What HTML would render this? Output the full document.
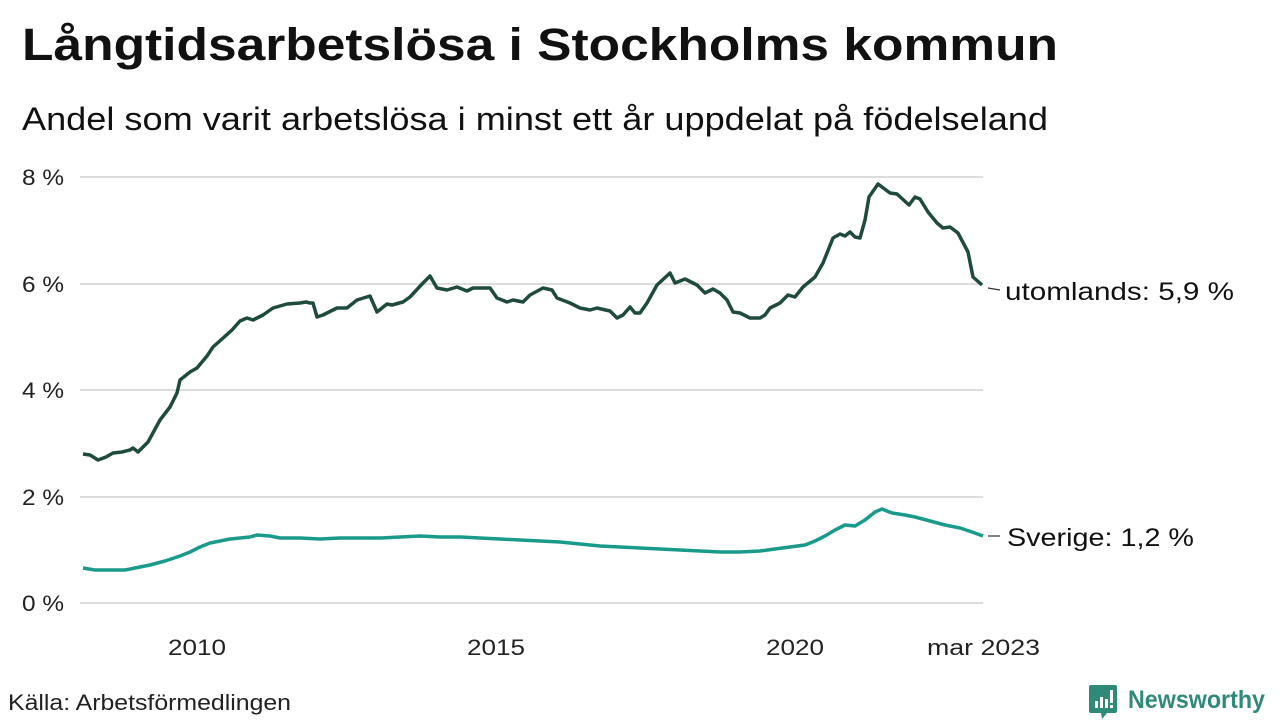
<!DOCTYPE html>
<html><head><meta charset="utf-8"><style>
body{margin:0;width:1280px;height:720px;background:#fff;overflow:hidden;font-family:"Liberation Sans",sans-serif;color:#111}
svg{position:absolute;left:0;top:0}
</style></head><body>
<svg width="1280" height="720" viewBox="0 0 1280 720" font-family="Liberation Sans, sans-serif">
<text x="22" y="60" font-size="45" font-weight="bold" fill="#111" textLength="1036" lengthAdjust="spacingAndGlyphs">Långtidsarbetslösa i Stockholms kommun</text>
<text x="22" y="130" font-size="32" fill="#111" textLength="1026" lengthAdjust="spacingAndGlyphs">Andel som varit arbetslösa i minst ett år uppdelat på födelseland</text>
<g stroke="#dcdcdc" stroke-width="2">
<line x1="80" y1="177" x2="983" y2="177"/><line x1="80" y1="284" x2="983" y2="284"/>
<line x1="80" y1="390" x2="983" y2="390"/><line x1="80" y1="497" x2="983" y2="497"/>
<line x1="80" y1="603" x2="983" y2="603"/>
</g>
<g font-size="22" fill="#222">
<text x="22" y="185" textLength="42" lengthAdjust="spacingAndGlyphs">8 %</text><text x="22" y="292" textLength="42" lengthAdjust="spacingAndGlyphs">6 %</text><text x="22" y="398" textLength="42" lengthAdjust="spacingAndGlyphs">4 %</text>
<text x="22" y="505" textLength="42" lengthAdjust="spacingAndGlyphs">2 %</text><text x="22" y="611" textLength="42" lengthAdjust="spacingAndGlyphs">0 %</text>
<text x="168" y="655" textLength="58" lengthAdjust="spacingAndGlyphs">2010</text>
<text x="467" y="655" textLength="58" lengthAdjust="spacingAndGlyphs">2015</text>
<text x="766" y="655" textLength="58" lengthAdjust="spacingAndGlyphs">2020</text>
<text x="927" y="655" textLength="113" lengthAdjust="spacingAndGlyphs">mar 2023</text>
</g>
<polyline fill="none" stroke="#1f4b3f" stroke-width="3.5" stroke-linejoin="round" points="83,454 90,455 98,460 106,457 113,453 122,452 130,450 133,448 138,452 148,442 160,420 170,407 177,393 180,380 190,372 197,368 207,356 213,347 222,339 232,330 240,321 247,318 253,320 263,315 273,308 280,306 287,304 300,303 306,302 310,303 313,303 317,317 323,315 337,308 347,308 357,300 370,296 377,312 387,304 392,305 403,302 410,297 423,283 430,276 437,288 447,290 457,287 467,291 473,288 490,288 497,298 507,302 513,300 523,302 530,295 543,288 552,290 557,298 570,303 580,308 590,310 597,308 610,311 617,318 623,315 630,307 635,313 640,313 647,303 657,285 670,273 675,283 685,279 697,285 705,293 713,289 720,293 727,300 733,312 740,313 750,318 760,318 765,315 770,308 780,303 788,295 795,297 803,287 815,277 823,263 833,238 840,234 845,236 850,232 855,237 860,238 865,220 869,197 878,184 890,193 897,194 909,205 915,197 920,199 928,212 937,223 943,228 950,227 958,233 968,252 973,277 982,285"/>
<polyline fill="none" stroke="#1a9a8a" stroke-width="3.5" stroke-linejoin="round" points="83,568 95,570 105,570 115,570 125,570 135,568 150,565 165,561 180,556 190,552 200,547 210,543 220,541 230,539 240,538 250,537 257,535 270,536 280,538 300,538 320,539 340,538 360,538 380,538 400,537 420,536 440,537 460,537 480,538 500,539 520,540 540,541 560,542 580,544 600,546 620,547 640,548 660,549 680,550 700,551 720,552 740,552 760,551 775,549 790,547 805,545 815,541 825,536 835,530 845,525 855,526 865,520 875,512 882,509 892,513 905,515 915,517 930,521 945,525 960,528 972,532 983,536"/>
<line x1="988" y1="288" x2="1000" y2="290" stroke="#333" stroke-width="1.2"/>
<line x1="988" y1="536" x2="1000" y2="536" stroke="#333" stroke-width="1.2"/>
<g font-size="25" fill="#111">
<text x="1005" y="300" textLength="229" lengthAdjust="spacingAndGlyphs">utomlands: 5,9 %</text>
<text x="1007" y="546" textLength="187" lengthAdjust="spacingAndGlyphs">Sverige: 1,2 %</text>
</g>
<text x="8" y="710" font-size="22" fill="#222" textLength="283" lengthAdjust="spacingAndGlyphs">Källa: Arbetsförmedlingen</text>
<g transform="translate(1089,685)">
<path d="M0,2 a2,2 0 0 1 2,-2 h24 a2,2 0 0 1 2,2 v24 a2,2 0 0 1 -2,2 h-8 l-5,6 l-1,-6 h-10 a2,2 0 0 1 -2,-2z" fill="#2f8a7a"/>
<rect x="6" y="16" width="3" height="7" fill="#fff"/><rect x="11" y="12" width="3" height="11" fill="#fff"/><rect x="16" y="14" width="3" height="9" fill="#fff"/><rect x="21" y="5" width="3" height="13" fill="#fff"/><rect x="21" y="20" width="3" height="3" fill="#fff"/>
</g>
<text x="1128" y="708" font-size="25" font-weight="bold" fill="#2f8a7a" textLength="137" lengthAdjust="spacingAndGlyphs">Newsworthy</text>
</svg>
</body></html>
